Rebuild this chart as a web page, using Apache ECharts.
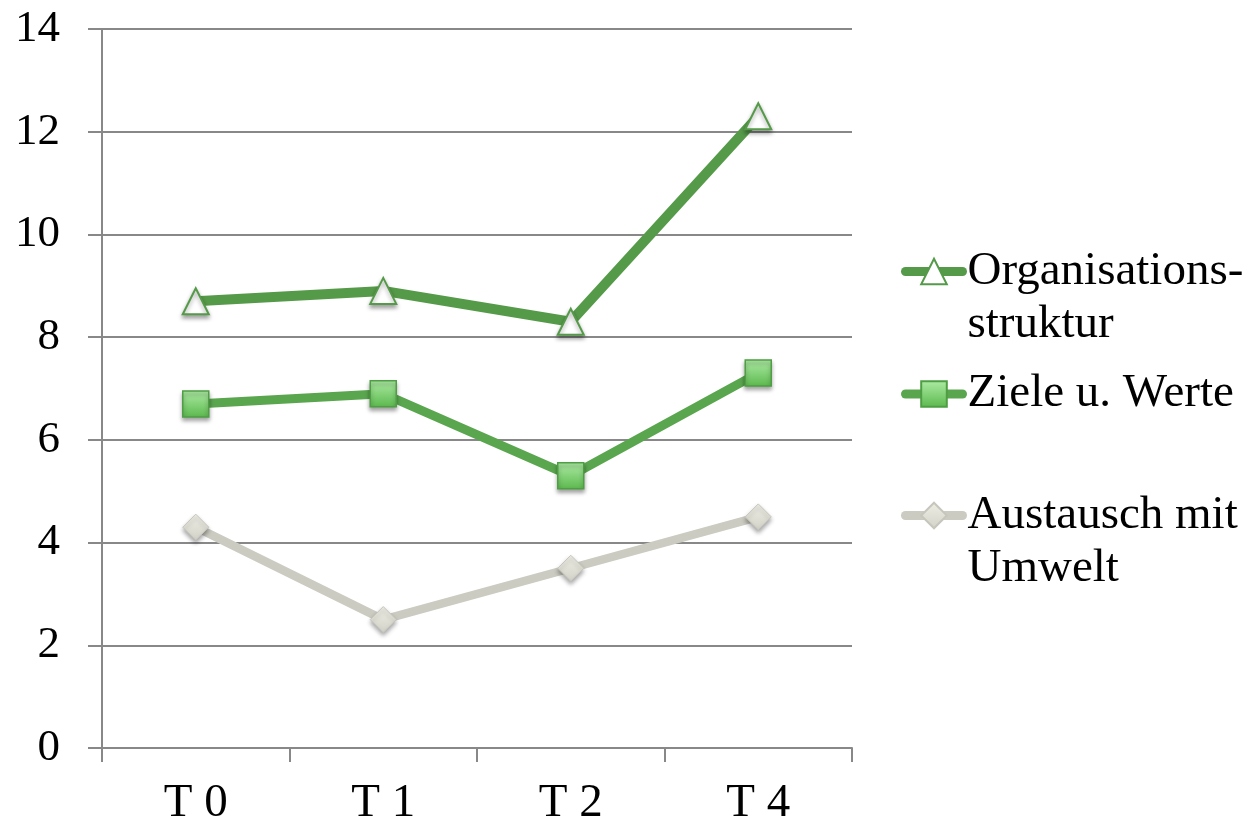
<!DOCTYPE html>
<html>
<head>
<meta charset="utf-8">
<script src="https://cdn.jsdelivr.net/npm/echarts@6/dist/echarts.min.js"></script>
<style>
  html, body { margin: 0; padding: 0; background: #fff; }
  #chart { width: 1251px; height: 827px; }
</style>
</head>
<body>
<div id="chart"></div>
<script>
// Measurement points
const categories = ['T 0', 'T 1', 'T 2', 'T 4'];

// Scores per dimension
const organisationsstruktur = [8.7, 8.9, 8.3, 12.3];
const zieleWerte = [6.7, 6.9, 5.3, 7.3];
const austauschUmwelt = [4.3, 2.5, 3.5, 4.5];

// Value axis ticks
const yTicks = [0, 2, 4, 6, 8, 10, 12, 14];

const FONT = "'Liberation Serif', 'Times New Roman', serif";
const AXIS_GRAY = '#888888';

const markerShadow = {
  shadowColor: 'rgba(0,0,0,0.35)',
  shadowBlur: 4,
  shadowOffsetY: 3
};

// Legend labels; a leading empty line keeps the icon beside the first text line
const legendLabels = {
  'Organisationsstruktur': '\nOrganisations-\nstruktur',
  'Ziele u. Werte': 'Ziele u. Werte',
  'Austausch mit Umwelt': '\nAustausch mit\nUmwelt'
};

const chart = echarts.init(document.getElementById('chart'), null, { renderer: 'canvas' });

function legendFor(name, top, lineWidth) {
  return {
    data: [name],
    left: 901,
    top: top,
    orient: 'vertical',
    padding: 0,
    itemWidth: 57,
    itemHeight: 32,
    selectedMode: false,
    lineStyle: { width: lineWidth, cap: 'round' },
    formatter: function (n) { return legendLabels[n]; },
    textStyle: {
      fontFamily: FONT,
      fontSize: 47,
      color: '#000',
      lineHeight: 53
    }
  };
}

chart.setOption({
  animation: false,
  backgroundColor: '#ffffff',
  grid: { left: 102, right: 399, top: 29, bottom: 77, containLabel: false },
  legend: [
    legendFor('Organisationsstruktur', 192, 9),
    legendFor('Ziele u. Werte', 367.5, 9),
    legendFor('Austausch mit Umwelt', 436, 9)
  ],
  xAxis: {
    type: 'category',
    data: categories,
    boundaryGap: true,
    axisLine: { show: true, lineStyle: { color: AXIS_GRAY, width: 2 } },
    axisTick: { show: true, length: 14, lineStyle: { color: AXIS_GRAY, width: 2 } },
    axisLabel: { fontFamily: FONT, fontSize: 47, color: '#000', margin: 32, lineHeight: 47 },
    splitLine: { show: false }
  },
  yAxis: {
    type: 'value',
    min: yTicks[0],
    max: yTicks[yTicks.length - 1],
    interval: 2,
    axisLine: { show: true, lineStyle: { color: AXIS_GRAY, width: 2 } },
    axisTick: { show: true, length: 14, lineStyle: { color: AXIS_GRAY, width: 2 } },
    axisLabel: { fontFamily: FONT, fontSize: 45, color: '#000', margin: 42 },
    splitLine: { show: true, lineStyle: { color: AXIS_GRAY, width: 2 } }
  },
  series: [
    {
      name: 'Austausch mit Umwelt',
      type: 'line',
      data: austauschUmwelt,
      z: 2,
      symbol: 'diamond',
      symbolSize: 26,
      lineStyle: { color: '#CBCBC2', width: 8.5 },
      itemStyle: Object.assign({
        color: new echarts.graphic.LinearGradient(0, 0, 0, 1, [
          { offset: 0, color: '#EEEEE6' },
          { offset: 1, color: '#D2D2C8' }
        ]),
        borderColor: '#C6C6BC',
        borderWidth: 1
      }, markerShadow)
    },
    {
      name: 'Ziele u. Werte',
      type: 'line',
      data: zieleWerte,
      z: 3,
      symbol: 'rect',
      symbolSize: 26,
      lineStyle: { color: '#5AA64E', width: 9 },
      itemStyle: Object.assign({
        color: new echarts.graphic.LinearGradient(0, 0, 0, 1, [
          { offset: 0, color: '#AEEBA5' },
          { offset: 1, color: '#5BB84D' }
        ]),
        borderColor: '#4E9E43',
        borderWidth: 1.5
      }, markerShadow)
    },
    {
      name: 'Organisationsstruktur',
      type: 'line',
      data: organisationsstruktur,
      z: 4,
      symbol: 'triangle',
      symbolSize: 26,
      lineStyle: { color: '#559A49', width: 10 },
      itemStyle: Object.assign({
        color: '#ffffff',
        borderColor: '#559A49',
        borderWidth: 2
      }, markerShadow)
    }
  ]
});
</script>
</body>
</html>
